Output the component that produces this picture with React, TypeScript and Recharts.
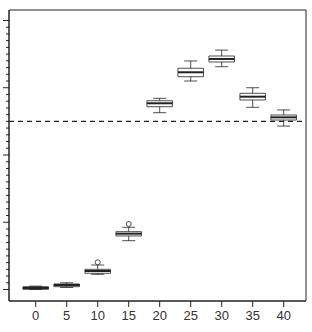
import React from "react";
import { ComposedChart, XAxis, YAxis, ReferenceArea, ReferenceLine, ReferenceDot, Scatter } from "recharts";

const groups = [0, 5, 10, 15, 20, 25, 30, 35, 40];
const lowWhisker = [0.0, 0.3, 2.26, 7.26, 26.29, 31.0, 33.13, 27.09, 24.3];
const q1 = [0.03, 0.42, 2.41, 7.96, 27.18, 31.64, 33.83, 28.18, 25.2];
const median = [0.22, 0.67, 2.75, 8.3, 27.69, 32.3, 34.28, 28.67, 25.6];
const q3 = [0.42, 0.82, 3.0, 8.6, 28.07, 32.9, 34.72, 29.17, 25.95];
const highWhisker = [0.5, 1.0, 3.64, 9.25, 28.43, 33.98, 35.6, 30.0, 26.7];
const outlierX = [10, 15];
const outlierY = [4.04, 9.74];
const refValue = 25;

const xTicks = [0, 5, 10, 15, 20, 25, 30, 35, 40];
const yTicks = Array.from({ length: 41 }, (_, i) => i);
const xDomain: [number, number] = [-4.31, 43.6];
const yDomain: [number, number] = [-1.71, 41.56];

const ink = "#222";
const boxHalf = 2.06;
const capHalf = 1.05;

const data = groups.map((g, i) => ({ x: g, y: median[i] }));

function YTick(props: any) {
  const { x, y, payload } = props;
  const len = payload.value % 10 === 0 ? 6 : 3;
  return <line x1={x} x2={x - len} y1={y} y2={y} stroke={ink} strokeWidth={1} />;
}

export default function App() {
  return (
    <div style={{ position: "absolute", left: 0, top: 0, background: "#fff" }}>
      <ComposedChart width={312} height={332} data={data} margin={{ top: 10, right: 6, bottom: 6, left: 0 }}>
        <XAxis
          dataKey="x"
          type="number"
          domain={xDomain}
          ticks={xTicks}
          allowDataOverflow
          height={25}
          tickSize={6}
          tickMargin={4}
          stroke={ink}
          tick={{ fill: "#333", fontSize: 13, fontFamily: "Liberation Sans, Arial, sans-serif" }}
          interval={0}
        />
        <YAxis
          type="number"
          domain={yDomain}
          ticks={yTicks}
          allowDataOverflow
          width={9}
          tickSize={0}
          tickMargin={0}
          tickLine={false}
          tick={<YTick />}
          interval={0}
          stroke={ink}
        />
        <ReferenceArea x1={xDomain[0]} x2={xDomain[1]} y1={yDomain[0]} y2={yDomain[1]} fill="none" stroke={ink} strokeWidth={1} />
        <ReferenceLine y={refValue} stroke={ink} strokeDasharray="5 4" strokeWidth={1.1} />
        {groups.map((g, i) => (
          <React.Fragment key={g}>
            <ReferenceLine segment={[{ x: g, y: q3[i] }, { x: g, y: highWhisker[i] }]} stroke={ink} strokeWidth={0.8} />
            <ReferenceLine segment={[{ x: g, y: lowWhisker[i] }, { x: g, y: q1[i] }]} stroke={ink} strokeWidth={0.8} />
            <ReferenceLine segment={[{ x: g - capHalf, y: highWhisker[i] }, { x: g + capHalf, y: highWhisker[i] }]} stroke={ink} strokeWidth={0.8} />
            <ReferenceLine segment={[{ x: g - capHalf, y: lowWhisker[i] }, { x: g + capHalf, y: lowWhisker[i] }]} stroke={ink} strokeWidth={0.8} />
            <ReferenceArea x1={g - boxHalf} x2={g + boxHalf} y1={q1[i]} y2={q3[i]} fill="#fff" fillOpacity={1} stroke={ink} strokeWidth={0.8} />
            <ReferenceLine segment={[{ x: g - boxHalf, y: median[i] }, { x: g + boxHalf, y: median[i] }]} stroke={ink} strokeWidth={2} />
          </React.Fragment>
        ))}
        {outlierX.map((ox, i) => (
          <ReferenceDot key={ox} x={ox} y={outlierY[i]} r={2.5} fill="#fff" stroke={ink} strokeWidth={0.8} />
        ))}
        <Scatter dataKey="y" fill="none" shape={() => <g />} isAnimationActive={false} />
      </ComposedChart>
    </div>
  );
}
